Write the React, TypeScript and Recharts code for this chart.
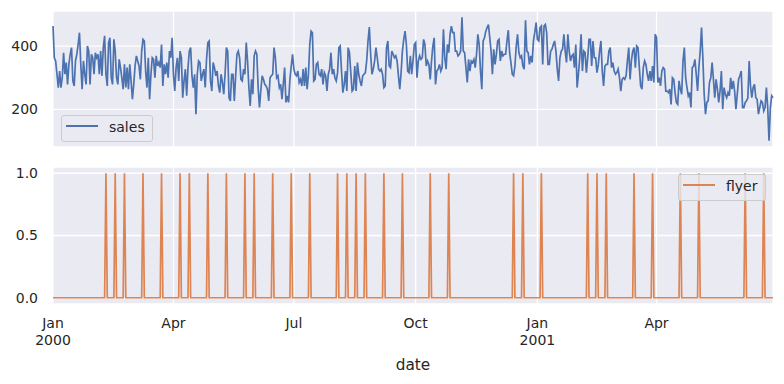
import React from 'react';
import { LineChart, Line, XAxis, YAxis, CartesianGrid } from 'recharts';

const startDate = '2000-01-01';

const salesValues: number[] = [
  463, 363, 353, 311, 269, 321, 269, 300, 379, 311, 348, 279, 342, 374, 395, 290, 274, 353, 374, 405,
  442, 342, 264, 353, 311, 279, 400, 384, 279, 374, 363, 311, 379, 363, 374, 311, 384, 306, 395, 432,
  311, 274, 411, 426, 300, 279, 421, 384, 300, 279, 358, 332, 300, 264, 342, 269, 332, 264, 342, 290,
  232, 279, 337, 369, 353, 337,
  295, 384, 421, 416, 321, 269, 363, 232, 311, 363, 358, 300, 369, 337, 348, 332, 405, 274, 342, 311,
  348, 300, 384, 363, 426, 311, 258, 332, 363, 290, 384, 363, 237, 290, 327, 243, 332, 384, 395, 306,
  269, 311, 185, 311, 353, 348, 290, 311, 327, 269, 358, 411, 416, 290, 258, 348, 332, 306, 321, 274,
  253, 311, 285, 248, 311, 395, 384, 237, 227, 311, 311,
  227, 306, 374, 384, 363, 295, 290, 327, 311, 411, 353, 269, 211, 295, 248, 369, 384, 374, 269, 206,
  258, 306, 295, 279, 274, 264, 227, 300, 306, 311, 395, 363, 300, 306, 269, 279, 232, 279, 332, 222,
  243, 222, 295, 337, 374, 327, 311, 306, 321, 285, 295, 274, 327, 274, 332, 264, 311, 405, 447, 442,
  290, 295, 342, 348, 311, 306, 327, 279, 316,
  306, 258, 311, 327, 379, 311, 327, 300, 290, 316, 395, 400, 321, 253, 279, 321, 258, 395, 379, 316,
  258, 264, 337, 258, 348, 311, 290, 274, 306, 311, 316, 353, 416, 460, 374, 311, 327, 353, 395, 363,
  327, 321, 327, 311, 269, 274, 395, 416, 337, 332, 384, 374, 363, 369, 353, 306, 264, 316, 384, 421,
  447, 405, 321, 316, 369, 311, 353, 405,
  411, 300, 353, 369, 358, 363, 421, 405, 337, 353, 342, 295, 353, 400, 426, 279, 321, 327, 342, 321,
  332, 453, 363, 327, 405, 379, 437, 463, 442, 442, 384, 384, 369, 374, 384, 491, 384, 379, 332, 285,
  358, 321, 353, 348, 358, 332, 374, 437, 405, 321, 264, 416, 426, 447, 458, 468, 426, 384, 311, 390,
  342, 374, 416, 421, 353, 384, 369, 374,
  374, 416, 450, 379, 348, 311, 306, 337, 400, 437, 379, 363, 369, 337, 327, 481, 384, 379, 342, 369,
  348, 416, 442, 474, 421, 416, 458, 463, 342, 463, 468, 442, 342, 342, 384, 390, 405, 416, 384, 327,
  290, 363, 384, 390, 437, 384, 348, 437, 384, 353, 369, 374, 332, 405, 269, 311, 363, 437, 321, 384,
  379, 316, 363, 421, 421, 337, 416, 363,
  363, 316, 342, 384, 416, 321, 274, 337, 342, 342, 384, 395, 332, 348, 321, 311, 316, 327, 300, 258,
  295, 300, 295, 306, 353, 395, 295, 353, 384, 395, 332, 400, 395, 332, 274, 264, 332, 353, 342, 311,
  290, 321, 290, 337, 285, 437, 426, 285, 300, 274, 321, 332, 327, 258, 258, 253, 264, 216, 300, 295,
  253, 222, 216, 290, 264, 248, 353, 395,
  300, 269, 243, 253, 206, 332, 337, 358, 311, 258, 332, 384, 458, 363, 248, 185, 222, 227, 285, 300,
  348, 295, 237, 295, 264, 222, 258, 321, 201, 269, 248, 237, 253, 243, 300, 264, 290, 258, 201, 248,
  295, 306, 321, 206, 206, 222, 227, 237, 353, 274, 237, 269, 279, 237, 232, 185, 206, 227, 222, 195,
  206, 269, 206, 101, 206, 243, 237,
];

const flyerDays: number[] = [
  40, 47, 54, 68, 82, 96, 103, 117, 131, 145, 152, 166, 180, 194, 215, 222, 229, 236, 250, 264,
  285, 299, 348, 355, 369, 404, 411, 418, 439, 453, 474, 488, 523, 537,
];

const tickDates = ['2000-01-01', '2000-04-01', '2000-07-01', '2000-10-01', '2001-01-01', '2001-04-01'];
const tickMonthLabels = ['Jan', 'Apr', 'Jul', 'Oct', 'Jan', 'Apr'];
const tickYearLabels = ['2000', '', '', '', '2001', ''];
const salesTicks = [200, 400];
const flyerTicks = [0, 0.5, 1.0];

const FONT = '"DejaVu Sans", sans-serif';
const TEXT = '#262626';
const FS = 14;
const BG = '#EAEAF2';
const SALES_COLOR = '#4C72B0';
const FLYER_COLOR = '#DD8452';

const dayIndex = (iso: string) =>
  Math.round((Date.parse(iso) - Date.parse(startDate)) / 86400000);
const tickDays = tickDates.map(dayIndex);
const lastDay = salesValues.length - 1;

const salesData = salesValues.map((v, i) => ({ day: i, sales: v }));
const flyerData = salesValues.map((_, i) => ({ day: i, flyer: flyerDays.includes(i) ? 1 : 0 }));

const salesMin = Math.min(...salesValues);
const salesMax = Math.max(...salesValues);
const salesPad = (salesMax - salesMin) * 0.05;
const salesDomain = [salesMin - salesPad, salesMax + salesPad];

const DateTick = (props: any) => {
  const { x, y, payload } = props;
  const idx = tickDays.indexOf(payload.value);
  const month = idx >= 0 ? tickMonthLabels[idx] : '';
  const year = idx >= 0 ? tickYearLabels[idx] : '';
  return (
    <g>
      <text x={x} y={y} textAnchor="middle" fill={TEXT} fontSize={FS} fontFamily={FONT}>
        <tspan x={x} dy="0.71em">{month}</tspan>
        {year ? <tspan x={x} dy="1.2em">{year}</tspan> : null}
      </text>
    </g>
  );
};

const LegendBox = ({ left, top, width, color, label }: any) => (
  <div
    style={{
      position: 'absolute',
      left,
      top,
      width,
      height: 27,
      boxSizing: 'border-box',
      border: '1px solid #CCCCCC',
      borderRadius: 3,
      background: 'rgba(234,234,242,0.8)',
      fontFamily: FONT,
      fontSize: FS,
      color: TEXT,
    }}
  >
    <div
      style={{
        position: 'absolute',
        left: 4,
        top: 9,
        width: 32,
        height: 2,
        background: color,
      }}
    />
    <span style={{ position: 'absolute', left: 47, top: 4, lineHeight: '14px', whiteSpace: 'nowrap' }}>
      {label}
    </span>
  </div>
);

export default function App() {
  return (
    <div style={{ position: 'absolute', left: 0, top: 0, width: 784, height: 384, background: '#FFFFFF' }}>
      <div style={{ position: 'absolute', left: 0, top: 0 }}>
        <LineChart width={784} height={150} data={salesData} margin={{ top: 11, right: 11, bottom: 3, left: 8 }}>
          <CartesianGrid fill={BG} stroke="#FFFFFF" strokeWidth={1.3} />
          <XAxis type="number" dataKey="day" domain={[0, lastDay]} ticks={tickDays} hide />
          <YAxis
            type="number"
            domain={salesDomain}
            ticks={salesTicks}
            width={45}
            tickSize={0}
            tickMargin={15}
            axisLine={false}
            tick={{ fill: TEXT, fontSize: FS, fontFamily: FONT }}
          />
          <Line
            type="linear"
            dataKey="sales"
            stroke={SALES_COLOR}
            strokeWidth={1.7}
            dot={false}
            activeDot={false}
            isAnimationActive={false}
          />
        </LineChart>
      </div>
      <div style={{ position: 'absolute', left: 0, top: 150 }}>
        <LineChart width={784} height={234} data={flyerData} margin={{ top: 17, right: 11, bottom: 9, left: 8 }}>
          <CartesianGrid fill={BG} stroke="#FFFFFF" strokeWidth={1.3} />
          <XAxis
            type="number"
            dataKey="day"
            domain={[0, lastDay]}
            ticks={tickDays}
            height={71}
            tickSize={0}
            tickMargin={14}
            axisLine={false}
            tick={<DateTick />}
            interval={0}
            label={{ value: 'date', position: 'insideBottom', offset: 5, fill: TEXT, fontSize: 15.3, fontFamily: FONT }}
          />
          <YAxis
            type="number"
            domain={[-0.05, 1.05]}
            ticks={flyerTicks}
            width={45}
            tickSize={0}
            tickMargin={15}
            axisLine={false}
            tickFormatter={(v: number) => v.toFixed(1)}
            tick={{ fill: TEXT, fontSize: FS, fontFamily: FONT }}
          />
          <Line
            type="linear"
            dataKey="flyer"
            stroke={FLYER_COLOR}
            strokeWidth={1.7}
            dot={false}
            activeDot={false}
            isAnimationActive={false}
          />
        </LineChart>
      </div>
      <LegendBox left={61} top={115} width={92} color={SALES_COLOR} label="sales" />
      <LegendBox left={678} top={174} width={88} color={FLYER_COLOR} label="flyer" />
    </div>
  );
}
